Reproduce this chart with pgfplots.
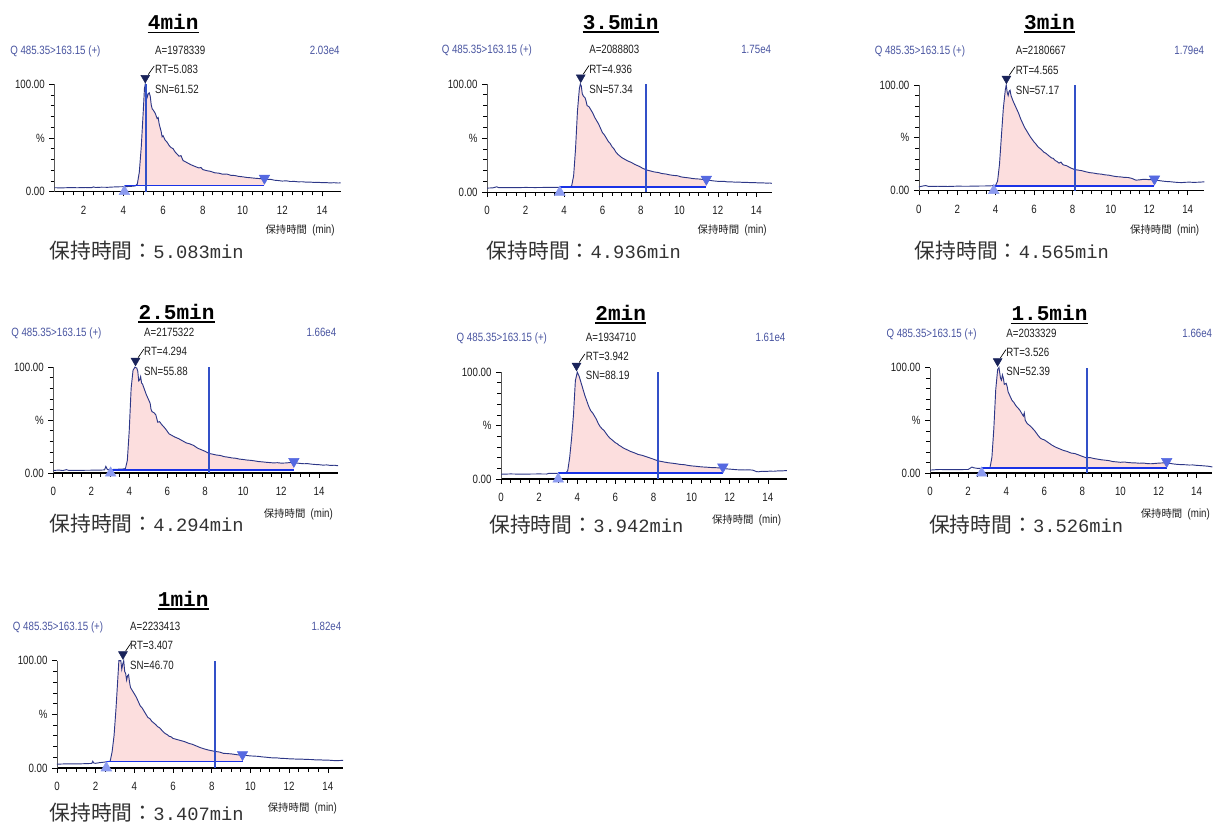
\documentclass[border=0pt]{standalone}
\usepackage{fontspec}
\usepackage{pgfplots}
\usepackage{pgfplotstable}
\pgfplotsset{compat=1.18}
\usepgfplotslibrary{fillbetween}

\setmainfont{Liberation Sans}
\newfontfamily\nar[FakeStretch=0.81]{Liberation Sans}
\newfontfamily\mono{Liberation Mono}
\newfontfamily\cjk{Noto Sans CJK JP}
\newcommand\smf{\nar\fontsize{9}{10.5}\selectfont}

\definecolor{qblue}{RGB}{72,84,160}
\definecolor{txt}{RGB}{30,30,30}
\definecolor{btxt}{RGB}{50,50,50}
\definecolor{trc}{RGB}{45,55,135}
\definecolor{pinkf}{RGB}{252,222,222}
\definecolor{blc}{RGB}{25,50,230}
\definecolor{vlc}{RGB}{50,80,200}
\definecolor{smc}{RGB}{140,155,240}
\definecolor{emc}{RGB}{85,105,225}
\definecolor{pkc}{RGB}{25,35,90}

% retention traces, % of max vs min
\pgfplotstableread{
x y
0.52 3.6
0.9 3.5
1.3 3.7
1.7 3.6
2.1 3.8
2.4 3.7
2.5 4.4
2.6 3.8
2.9 4.1
3.2 4.0
3.5 4.3
3.8 4.5
4.1 4.6
4.4 4.9
4.6 5.3
4.7 7
4.8 18
4.9 42
5.0 75
5.06 96
5.1 100
5.15 93
5.2 88
5.25 91
5.3 92
5.35 89
5.4 81
5.45 77
5.5 76
5.6 73
5.7 68
5.75 69
5.8 63
5.9 56
5.95 51
6.0 52
6.1 48
6.2 46
6.3 43
6.4 41
6.5 40
6.6 37
6.7 35
6.8 33
6.9 33.5
7.0 29
7.1 28
7.2 27
7.4 25
7.6 23.5
7.8 22
7.9 22.5
8.0 20.5
8.2 19.5
8.4 18.8
8.6 17.5
8.8 17.2
9.0 16.2
9.2 16.4
9.4 15.2
9.6 15
9.8 14.2
10.0 13.8
10.2 13.2
10.4 12.9
10.6 12.5
10.8 12.2
11.0 12
11.2 11.3
11.4 11.5
11.6 10.6
11.8 10.3
12.0 9.8
12.2 10.1
12.4 9.4
12.6 9.5
12.8 9.1
13.0 9.2
13.2 8.8
13.4 8.9
13.6 8.5
13.8 8.7
14.0 8.3
14.2 8.4
14.4 8.1
14.6 8.3
14.8 8.0
14.93 8.1
}\tA

\pgfplotstableread{
x y
0 3.8
0.3 4.0
0.5 5.0
0.6 4.3
1.0 4.3
1.5 4.2
2.0 4.4
2.5 4.3
3.0 4.4
3.5 4.5
4.0 4.6
4.3 4.7
4.4 6
4.5 15
4.6 40
4.7 75
4.8 96
4.85 100
4.9 98
4.95 91
5.0 89
5.1 87
5.15 84
5.2 80
5.3 79
5.4 76
5.5 73
5.6 69
5.7 66
5.8 63
5.9 59
6.0 55
6.1 53
6.2 50
6.3 47
6.4 45
6.5 42
6.6 40
6.7 37
6.8 35
6.9 33.5
7.0 32
7.1 31
7.3 29
7.5 27.5
7.7 25.5
7.9 24
8.1 22
8.3 20.5
8.5 19.6
8.7 18.7
8.9 18.2
9.1 17.2
9.3 16.8
9.5 16
9.7 15.5
9.9 15.2
10.1 14.1
10.3 13.6
10.5 13.2
10.7 12.6
10.9 12.3
11.1 12.1
11.3 11.5
11.5 11.2
11.7 10.6
11.9 10.2
12.1 9.9
12.3 10.1
12.5 9.5
12.7 9.6
12.9 9.2
13.1 9.4
13.3 9.0
13.5 9.1
13.7 8.8
13.9 8.9
14.1 8.6
14.3 8.7
14.5 8.4
14.7 8.5
14.81 8.2
}\tB

\pgfplotstableread{
x y
0 3.6
0.2 4.3
0.35 4.8
0.5 4.0
1.0 4.1
1.5 3.9
2.0 4.2
2.5 4.1
3.0 4.3
3.5 4.4
3.8 4.6
4.0 5.0
4.1 9
4.2 25
4.3 52
4.4 78
4.5 95
4.55 100
4.6 93
4.65 90
4.7 94
4.75 95
4.8 90
4.9 85
5.0 81
5.1 77
5.2 73
5.3 68
5.4 64
5.5 60
5.6 57
5.7 54
5.8 51
5.9 48.5
6.0 46
6.1 44
6.2 41.5
6.3 40
6.4 38.5
6.5 36.5
6.6 35.5
6.7 34
6.8 32.5
6.9 31
7.0 30.5
7.1 28.5
7.2 27.5
7.3 26
7.4 27
7.5 24.5
7.7 23.5
7.9 21.5
8.1 20
8.3 19.4
8.5 18.8
8.7 17.8
8.9 17.0
9.1 16.6
9.3 15.9
9.5 15.6
9.7 14.9
9.9 14.6
10.1 13.8
10.3 13.2
10.5 13.0
10.7 12.5
10.9 12.4
11.1 11.5
11.3 9.9
11.5 10.2
11.7 10.7
11.9 10.5
12.1 10.3
12.3 10.0
12.5 9.5
12.7 9.0
12.9 8.6
13.1 8.4
13.3 8.0
13.5 7.7
13.7 7.6
13.9 7.9
14.1 8.0
14.3 7.8
14.5 7.9
14.7 8.1
14.87 8.3
}\tC

\pgfplotstableread{
x y
0 2.5
0.3 2.8
0.5 2.4
0.7 3.2
0.8 2.6
1.0 2.5
1.5 2.6
2.0 2.7
2.5 2.8
2.7 3.0
2.77 6.3
2.85 3.3
3.0 3.2
3.3 3.6
3.6 3.7
3.8 4.2
3.9 12
4.0 40
4.1 80
4.2 97
4.3 100
4.4 99
4.45 96
4.5 87
4.55 88
4.6 91
4.65 85
4.7 84
4.8 79
4.9 74
5.0 70
5.1 66
5.15 60
5.2 58
5.3 57
5.4 55
5.5 48
5.6 48.5
5.7 46
5.8 44
5.9 42
6.0 39.5
6.1 37
6.2 36
6.3 35
6.4 34
6.6 32.5
6.8 30.5
7.0 28.5
7.2 27.5
7.4 26
7.6 23.5
7.8 22
8.0 20.5
8.2 18.5
8.4 17.8
8.6 17.0
8.8 16.6
9.0 15.5
9.2 15.0
9.4 14.3
9.6 14.0
9.8 13.2
10.0 12.8
10.2 12.3
10.4 12.0
10.6 11.5
10.8 10.9
11.0 10.6
11.2 10.2
11.4 9.9
11.6 9.6
11.8 9.8
12.0 9.4
12.2 9.5
12.4 9.8
12.6 10.2
12.8 9.5
13.0 9.1
13.2 8.8
13.4 8.9
13.6 8.4
13.8 8.1
14.0 7.9
14.2 7.5
14.4 7.7
14.6 7.2
14.8 7.4
15.0 6.9
}\tD

\pgfplotstableread{
x y
0 4.5
0.5 4.8
1.0 4.6
1.5 4.7
2.0 4.8
2.4 4.7
2.5 5.3
3.0 5.4
3.4 5.6
3.5 8
3.6 20
3.7 38
3.8 60
3.9 92
4.0 100
4.1 96
4.2 90
4.3 84
4.4 78
4.5 73
4.6 68
4.7 64
4.8 62
4.9 59
5.0 56
5.1 52
5.2 49
5.3 47
5.4 45.5
5.5 43
5.6 40.5
5.7 38.5
5.8 37
5.9 35.5
6.0 34
6.1 33
6.2 31.5
6.3 30.5
6.4 29.2
6.6 27.5
6.8 25.8
7.0 24.5
7.2 23
7.4 22.2
7.6 21
7.8 19.8
8.0 18.6
8.2 17.2
8.4 16.5
8.6 15.8
8.8 15.2
9.0 14.8
9.2 14.3
9.4 13.7
9.6 13.5
9.8 12.8
10.0 12.3
10.2 12.0
10.4 11.6
10.6 11.3
10.8 11.1
11.0 10.8
11.2 10.7
11.4 10.5
11.6 10.3
11.8 9.6
12.0 9.3
12.2 9.0
12.4 8.7
12.6 8.6
12.8 8.5
13.0 8.6
13.2 8.4
13.4 7.0
13.5 6.8
13.7 7.3
13.9 7.1
14.1 7.4
14.3 7.3
14.5 7.6
14.7 7.6
14.85 7.8
15.0 7.9
}\tE

\pgfplotstableread{
x y
0 2.8
0.3 3.2
0.5 3.4
1.0 3.2
1.5 3.3
2.0 3.4
2.1 4.5
2.2 5.7
2.3 5.0
2.5 4.4
2.7 4.6
3.0 4.8
3.15 5.2
3.25 15
3.35 42
3.45 79
3.55 98
3.62 100
3.7 90
3.75 88
3.8 93
3.85 90
3.9 84
4.0 85
4.05 82
4.1 77
4.2 73
4.3 69
4.4 67
4.5 64
4.6 62
4.7 60
4.8 57
4.9 54
4.95 57
5.0 50
5.1 47
5.2 45.5
5.3 44
5.4 42
5.5 40
5.6 37.5
5.7 35
5.8 33
5.9 32
6.0 31.5
6.2 29
6.4 26.5
6.6 24.5
6.8 23
7.0 21.5
7.2 20.5
7.4 19
7.6 18.5
7.8 17.2
8.0 15.8
8.2 14.5
8.4 14.7
8.6 13.8
8.8 13.2
9.0 12.6
9.2 12.2
9.4 11.8
9.6 10.9
9.8 10.6
10.0 10.2
10.2 10.5
10.4 10.0
10.6 9.7
10.8 9.6
11.0 9.3
11.2 9.5
11.4 9.0
11.6 8.8
11.8 9.1
12.0 9.4
12.2 9.6
12.4 9.6
12.6 9.2
12.8 8.6
13.0 8.2
13.2 8.0
13.4 7.9
13.6 7.6
13.8 7.7
14.0 7.3
14.2 7.1
14.4 6.8
14.6 6.5
14.83 5.8
}\tF

\pgfplotstableread{
x y
0 3.5
0.5 3.8
1.0 3.7
1.5 4.0
1.8 4.2
1.85 6.2
1.9 4.6
2.0 4.3
2.2 4.9
2.4 5.3
2.6 5.8
2.75 6.3
2.85 15
2.95 30
3.05 55
3.15 85
3.2 100
3.3 100
3.35 92
3.4 97
3.45 100
3.5 90
3.55 88
3.6 82
3.65 86
3.7 87
3.75 80
3.8 75
3.9 72
4.0 69
4.1 66
4.2 62
4.3 58
4.4 56
4.5 53
4.6 50
4.7 47
4.8 46
4.9 43.5
5.0 42
5.1 40.5
5.2 38.5
5.3 37.5
5.4 35.5
5.5 33.5
5.6 32
5.7 31
5.8 29.5
5.9 29
6.0 27.5
6.2 26.5
6.4 25.5
6.6 24.5
6.8 23
7.0 22
7.2 20.5
7.4 19
7.6 17.8
7.8 16.8
8.0 16.0
8.2 15.3
8.4 14.8
8.6 13.6
8.8 13.4
9.0 13.1
9.2 12.6
9.4 12.1
9.6 11.8
9.8 11.6
10.0 11.2
10.2 11.0
10.4 10.8
10.6 10.3
10.8 10.0
11.0 9.6
11.2 9.3
11.4 9.3
11.6 8.9
11.8 8.8
12.0 8.5
12.2 8.4
12.4 8.2
12.6 8.3
12.8 8.0
13.0 7.9
13.2 7.8
13.4 7.4
13.6 7.6
13.8 7.2
14.0 7.3
14.2 7.0
14.4 6.8
14.6 6.9
14.79 7.1
}\tG

\pgfplotsset{
  chrom/.style={
    scale only axis, anchor=south west, clip=false,
    axis x line=bottom, axis y line=left,
    x axis line style={-, black, line width=0.9pt},
    y axis line style={-, black!65, line width=0.5pt},
    ymin=0, ymax=100,
    ytick={0,50,100}, yticklabels={0.00,\%,100.00},
    minor y tick num=4,
    xtick={0,2,...,14}, minor x tick num=3,
    tick align=outside,
    major tick length=3.6pt, minor tick length=2.8pt,
    tick style={black, line width=0.5pt},
    ticklabel style={font=\smf, text=txt},
    /pgf/number format/assume math mode=true,
    xticklabel style={yshift=-3.6pt},
  },
  trc/.style={color=trc, line width=0.7pt, mark=none},
  bln/.style={color=blc, line width=1.1pt, mark=none},
  vln/.style={color=vlc, line width=1.3pt, mark=none},
  smk/.style={only marks, mark=triangle*, mark size=4.6pt, color=smc},
  emk/.style={only marks, mark=triangle*, mark size=4.5pt, color=emc, mark options={rotate=180}},
  pmk/.style={only marks, mark=triangle*, mark size=3.8pt, color=pkc, mark options={rotate=180}},
  ldr/.style={black, line width=0.5pt, mark=none},
}

\newcommand\ttl[3]{\node[anchor=base, inner sep=0, text=black, font=\mono\bfseries\fontsize{15.8}{18}\selectfont] (T) at (#1,#2) {#3};
  \draw[line width=1.1pt] ([yshift=-2pt]T.base west) -- ([yshift=-2pt]T.base east);}
\newcommand\hdr[6]{%
  \node[anchor=base west, inner sep=0, text=qblue, font=\smf] at (#1,#4) {Q 485.35>163.15 (+)};
  \node[anchor=base west, inner sep=0, text=txt, font=\smf] at (#2,#4) {A=#5};
  \node[anchor=base east, inner sep=0, text=qblue, font=\smf] at (#3,#4) {#6};}
\newcommand\rtsn[5]{%
  \node[anchor=base west, inner sep=0, text=txt, font=\smf] at (#1,#2) {RT=#4};
  \node[anchor=base west, inner sep=0, text=txt, font=\smf] at (#1,#3) {SN=#5};}
\newcommand\xlab[2]{\node[anchor=base east, inner sep=0, text=txt] at (#1,#2) {{\cjk\fontsize{7.8}{9}\selectfont 保持時間}\hspace{4pt}{\smf (min)}};}
\newcommand\rtime[3]{\node[anchor=base west, inner sep=0, text=btxt] at (#1,#2) {{\cjk\fontsize{15.6}{18}\selectfont 保持時間：}{\mono\fontsize{14.1}{16}\selectfont #3min}};}

\begin{document}
\begin{tikzpicture}
\path (0,0) rectangle (909.75pt,-618pt);

% 4min
\begin{axis}[chrom, at={(40.725pt,-143.775pt)}, width=214.8pt, height=80.55pt, xmin=0.52, xmax=14.93]
\addplot[draw=none, name path=t] table {\tA};
\addplot[draw=none, name path=b] coordinates {(0.52,5.6) (14.93,5.6)};
\addplot[pinkf] fill between[of=t and b, soft clip={domain=4.6:11.1}];
\addplot[trc] table {\tA};
\addplot[bln] coordinates {(4.05,5.6) (11.1,5.6)};
\addplot[vln] coordinates {(5.12,0) (5.12,100)};
\addplot[smk] coordinates {(4.05,0)};
\addplot[emk] coordinates {(11.1,12.5)};
\addplot[pmk] coordinates {(5.1,106)};
\addplot[ldr] coordinates {(5.25,109) (5.55,117)};
\end{axis}

% 3.5min
\begin{axis}[chrom, at={(365.475pt,-144.225pt)}, width=213.75pt, height=81.225pt, xmin=0, xmax=14.81]
\addplot[draw=none, name path=t] table {\tB};
\addplot[draw=none, name path=b] coordinates {(0,4.6) (14.81,4.6)};
\addplot[pinkf] fill between[of=t and b, soft clip={domain=4.35:11.4}];
\addplot[trc] table {\tB};
\addplot[bln] coordinates {(3.78,4.6) (11.4,4.6)};
\addplot[vln] coordinates {(8.25,0) (8.25,100)};
\addplot[smk] coordinates {(3.78,0)};
\addplot[emk] coordinates {(11.4,12)};
\addplot[pmk] coordinates {(4.87,106)};
\addplot[ldr] coordinates {(5.0,109) (5.3,117)};
\end{axis}

% 3min
\begin{axis}[chrom, at={(689.475pt,-143.025pt)}, width=214.275pt, height=79.275pt, xmin=0, xmax=14.87]
\addplot[draw=none, name path=t] table {\tC};
\addplot[draw=none, name path=b] coordinates {(0,4.4) (14.87,4.4)};
\addplot[pinkf] fill between[of=t and b, soft clip={domain=4.02:12.27}];
\addplot[trc] table {\tC};
\addplot[bln] coordinates {(3.9,4.4) (12.27,4.4)};
\addplot[vln, line width=1.6pt] coordinates {(8.15,0) (8.15,100)};
\addplot[smk] coordinates {(3.9,0)};
\addplot[emk] coordinates {(12.27,11)};
\addplot[pmk] coordinates {(4.56,106)};
\addplot[ldr] coordinates {(4.7,109) (5.0,117)};
\end{axis}

% 2.5min
\begin{axis}[chrom, at={(39.975pt,-354.975pt)}, width=213.75pt, height=79.5pt, xmin=0, xmax=15]
\addplot[draw=none, name path=t] table {\tD};
\addplot[draw=none, name path=b] coordinates {(0,3.1) (15,3.1)};
\addplot[pinkf] fill between[of=t and b, soft clip={domain=3.85:12.67}];
\addplot[trc] table {\tD};
\addplot[bln] coordinates {(3.02,3.1) (12.67,3.1)};
\addplot[vln] coordinates {(8.19,0) (8.19,100)};
\addplot[smk] coordinates {(3.02,0)};
\addplot[emk] coordinates {(12.67,11)};
\addplot[pmk] coordinates {(4.33,106)};
\addplot[ldr] coordinates {(4.47,109) (4.77,117)};
\end{axis}

% 2min
\begin{axis}[chrom, at={(375.975pt,-359.475pt)}, width=214.5pt, height=80.25pt, xmin=0, xmax=15]
\addplot[draw=none, name path=t] table {\tE};
\addplot[draw=none, name path=b] coordinates {(0,5.6) (15,5.6)};
\addplot[pinkf] fill between[of=t and b, soft clip={domain=3.45:11.64}];
\addplot[trc] table {\tE};
\addplot[bln] coordinates {(3.0,5.6) (11.64,5.6)};
\addplot[vln, line width=1.6pt] coordinates {(8.24,0) (8.24,100)};
\addplot[smk] coordinates {(3.0,0)};
\addplot[emk] coordinates {(11.64,11.3)};
\addplot[pmk] coordinates {(3.96,106)};
\addplot[ldr] coordinates {(4.1,109) (4.4,117)};
\end{axis}

% 1.5min
\begin{axis}[chrom, at={(697.875pt,-354.975pt)}, width=211.875pt, height=79.2pt, xmin=0, xmax=14.83]
\addplot[draw=none, name path=t] table {\tF};
\addplot[draw=none, name path=b] coordinates {(0,4.7) (14.83,4.7)};
\addplot[pinkf] fill between[of=t and b, soft clip={domain=3.2:12.43}];
\addplot[trc] table {\tF};
\addplot[bln] coordinates {(2.71,4.7) (12.43,4.7)};
\addplot[vln] coordinates {(8.26,0) (8.26,100)};
\addplot[smk] coordinates {(2.71,0)};
\addplot[emk] coordinates {(12.43,11)};
\addplot[pmk] coordinates {(3.55,106)};
\addplot[ldr] coordinates {(3.69,109) (3.99,117)};
\end{axis}

% 1min
\begin{axis}[chrom, at={(42.75pt,-576.225pt)}, width=214.725pt, height=80.475pt, xmin=0, xmax=14.79]
\addplot[draw=none, name path=t] table {\tG};
\addplot[draw=none, name path=b] coordinates {(0,6.2) (14.79,6.2)};
\addplot[pinkf] fill between[of=t and b, soft clip={domain=2.76:9.59}];
\addplot[trc] table {\tG};
\addplot[bln] coordinates {(2.55,6.2) (9.59,6.2)};
\addplot[vln, line width=1.6pt] coordinates {(8.15,0) (8.15,100)};
\addplot[smk] coordinates {(2.55,0)};
\addplot[emk] coordinates {(9.59,12.5)};
\addplot[pmk] coordinates {(3.41,106)};
\addplot[ldr] coordinates {(3.55,109) (3.85,117)};
\end{axis}

\begin{scope}[x=0.75pt, y=-0.75pt]
\ttl{173.3}{30}{4min}
\hdr{10}{155}{340}{55}{1978339}{2.03e4}
\rtsn{155}{74}{94}{5.083}{61.52}
\xlab{335}{233.3}
\rtime{49.3}{258.7}{5.083}

\ttl{621}{29.3}{3.5min}
\hdr{441.7}{589.3}{771.7}{54}{2088803}{1.75e4}
\rtsn{589.3}{73.3}{93.3}{4.936}{57.34}
\xlab{767.3}{233.3}
\rtime{486.7}{258.3}{4.936}

\ttl{1050}{29.3}{3min}
\hdr{875}{1016}{1205}{55}{2180667}{1.79e4}
\rtsn{1016}{75}{94.3}{4.565}{57.17}
\xlab{1200}{233.3}
\rtime{915}{258.3}{4.565}

\ttl{176.7}{319.3}{2.5min}
\hdr{11}{144}{336.7}{336.7}{2175322}{1.66e4}
\rtsn{144}{356}{375.7}{4.294}{55.88}
\xlab{333.3}{517.7}
\rtime{49.3}{531.7}{4.294}

\ttl{621}{320.7}{2min}
\hdr{456.7}{586}{786}{341.7}{1934710}{1.61e4}
\rtsn{586}{360.7}{380}{3.942}{88.19}
\xlab{781.7}{523.3}
\rtime{489.3}{532.3}{3.942}

\ttl{1050}{321}{1.5min}
\hdr{886.7}{1006.7}{1213}{337.7}{2033329}{1.66e4}
\rtsn{1006.7}{356.7}{375.7}{3.526}{52.39}
\xlab{1210.7}{517.7}
\rtime{929.3}{532.7}{3.526}

\ttl{183.3}{606.7}{1min}
\hdr{12.7}{130}{341.7}{630.7}{2233413}{1.82e4}
\rtsn{130}{650}{670}{3.407}{46.70}
\xlab{337.3}{811.7}
\rtime{49.3}{820.7}{3.407}
\end{scope}
\end{tikzpicture}
\end{document}
